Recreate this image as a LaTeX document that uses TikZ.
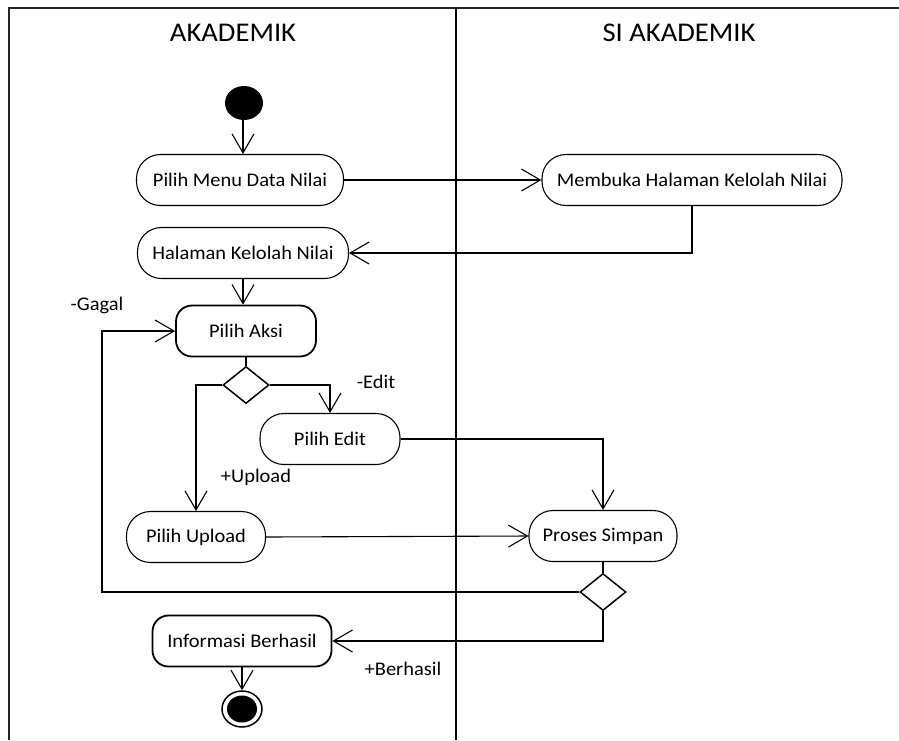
\documentclass[tikz,border=0pt]{standalone}
\usepackage{fontspec}
\setmainfont{Carlito}[FakeStretch=1.06]
\usetikzlibrary{arrows.meta,shapes.geometric}
\begin{document}
\begin{tikzpicture}[x=1pt,y=-1pt,
  frameline/.style={line width=1.6pt,black!85},
  lanetitle/.style={font=\fontsize{27}{30}\selectfont},
  action/.style={draw,line width=1.1pt,rounded corners=24pt,inner sep=0pt,
    font=\fontsize{19.3}{21}\selectfont,minimum height=51pt},
  strongaction/.style={draw,line width=1.8pt,rounded corners=16pt,inner sep=0pt,
    font=\fontsize{19.3}{21}\selectfont,minimum height=51pt},
  decision/.style={draw,line width=1.5pt,diamond,aspect=1.25,inner sep=0pt,
    minimum width=46pt,minimum height=37pt},
  guard/.style={font=\fontsize{19.3}{21}\selectfont,inner sep=0pt},
  flow/.style={line width=1.1pt,-{Straight Barb[length=19pt,width=22pt,line width=1.1pt]}},
  plain/.style={line width=1.1pt}
]
\useasboundingbox (0,0) rectangle (899,740);

% swimlane frame
\draw[frameline] (9,740) -- (9,8) -- (899,8);
\draw[line width=2.4pt] (456,8) -- (456,740);
\node[lanetitle] (laneA) at (233,33) {AKADEMIK};
\node[lanetitle] (laneB) at (679,33) {SI AKADEMIK};

% start and end
\fill (244,103) ellipse (19pt and 17pt);
\coordinate (startbot) at (243,120);
\node[draw,line width=1.5pt,ellipse,minimum width=40pt,minimum height=36pt,inner sep=0pt] (final) at (242,709) {};
\fill (242,709) ellipse (15pt and 13.5pt);

% actions
\node[action,minimum width=207pt] (pm) at (240,180) {Pilih Menu Data Nilai};
\node[action,minimum width=300pt] (mb) at (692,180) {Membuka Halaman Kelolah Nilai};
\node[action,minimum width=211pt] (hk) at (243,253) {Halaman Kelolah Nilai};
\node[strongaction,minimum width=140pt] (pa) at (246,331) {Pilih Aksi};
\node[decision] (d1) at (246,385) {};
\node[action,minimum width=140pt] (pe) at (330,439) {Pilih Edit};
\node[action,minimum width=139pt] (pu) at (196,537) {Pilih Upload};
\node[action,minimum width=148pt] (ps) at (603,536) {Proses Simpan};
\node[decision] (d2) at (603,592) {};
\node[strongaction,minimum width=179pt] (ib) at (242,641) {Informasi Berhasil};

% guards
\node[guard] (gagal) at (97,305) {-Gagal};
\node[guard] (edit) at (376,382) {-Edit};
\node[guard] (upload) at (256,477) {+Upload};
\node[guard] (berhasil) at (403,669) {+Berhasil};

% flows
\draw[flow] (startbot) -- (pm.north -| startbot);
\draw[flow] (pm.east) -- (mb.west);
\draw[flow] (mb.south) |- (hk.east);
\draw[flow] (hk.south) -- (pa.north -| hk.south);
\draw[plain] (pa.south) -- (d1.north);
\draw[flow] (d1.west) -| (pu.north);
\draw[flow] (d1.east) -| (pe.north);
\draw[flow] (pe.east) -| (ps.north);
\draw[flow] (pu.east) -- (ps.west);
\draw[plain] (ps.south) -- (d2.north);
\coordinate (loop) at (102,592);
\draw[flow] (d2.west) -- (loop) |- (pa.west);
\draw[flow] (d2.south) |- (ib.east);
\draw[flow] (ib.south) -- (final.north);
\end{tikzpicture}
\end{document}
